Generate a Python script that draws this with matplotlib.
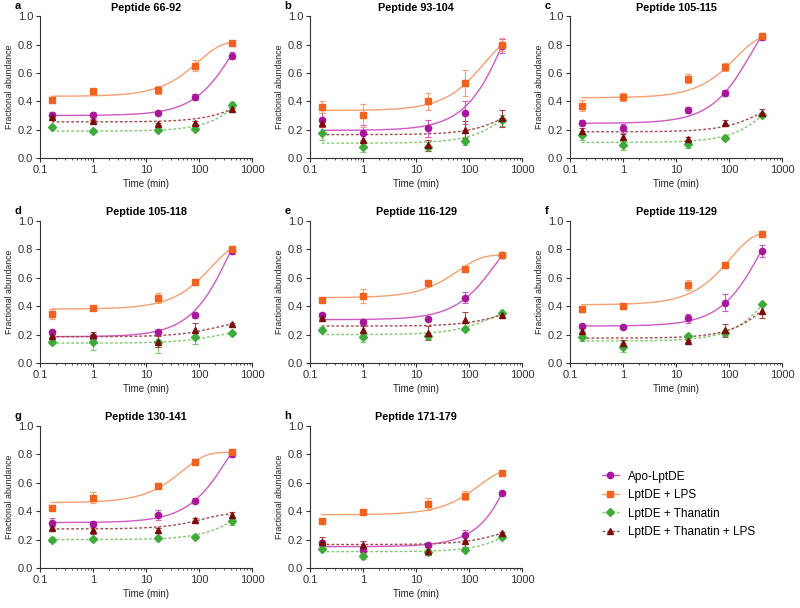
import numpy as np
import matplotlib
matplotlib.use('Agg')
import matplotlib.pyplot as plt
from matplotlib.lines import Line2D
from matplotlib.ticker import LogLocator, NullFormatter

plt.rcParams['font.family'] = ['Liberation Sans', 'DejaVu Sans']

# sampling times (min)
times = [0.167, 1.0, 16.7, 83.3, 416.7]

titles = ['Peptide 66-92', 'Peptide 93-104', 'Peptide 105-115', 'Peptide 105-118',
          'Peptide 116-129', 'Peptide 119-129', 'Peptide 130-141', 'Peptide 171-179']
letters = ['a', 'b', 'c', 'd', 'e', 'f', 'g', 'h']

series_names = ['Apo-LptDE', 'LptDE + LPS', 'LptDE + Thanatin', 'LptDE + Thanatin + LPS']

# Apo-LptDE
apo_y = [[0.30, 0.30, 0.32, 0.43, 0.72],
         [0.27, 0.18, 0.21, 0.32, 0.79],
         [0.25, 0.21, 0.34, 0.46, 0.85],
         [0.22, 0.185, 0.22, 0.335, 0.79],
         [0.335, 0.29, 0.31, 0.46, 0.76],
         [0.26, 0.255, 0.315, 0.425, 0.79],
         [0.32, 0.31, 0.37, 0.475, 0.805],
         [0.175, 0.13, 0.16, 0.23, 0.53]]
apo_err = [[0.025, 0.025, 0.01, 0.02, 0.025],
           [0.05, 0.05, 0.06, 0.08, 0.05],
           [0.02, 0.03, 0.02, 0.02, 0.02],
           [0.01, 0.02, 0.01, 0.02, 0.02],
           [0.015, 0.01, 0.01, 0.04, 0.015],
           [0.01, 0.01, 0.03, 0.06, 0.04],
           [0.03, 0.02, 0.035, 0.02, 0.02],
           [0.02, 0.02, 0.01, 0.035, 0.01]]
# fit: (y0, plateau, k)
apo_fit = [(0.30, 1.0, 0.0023), (0.195, 1.2, 0.00215), (0.245, 1.0, 0.00404),
           (0.185, 1.1, 0.00271), (0.305, 0.9, 0.00337), (0.26, 1.05, 0.00272),
           (0.32, 1.0, 0.00311), (0.15, 3.0, 0.000343)]

# LptDE + LPS
lps_y = [[0.41, 0.47, 0.48, 0.65, 0.81],
         [0.36, 0.30, 0.40, 0.53, 0.80],
         [0.37, 0.43, 0.56, 0.64, 0.86],
         [0.345, 0.39, 0.46, 0.57, 0.80],
         [0.445, 0.47, 0.56, 0.665, 0.76],
         [0.38, 0.40, 0.55, 0.69, 0.905],
         [0.425, 0.495, 0.58, 0.745, 0.815],
         [0.33, 0.395, 0.45, 0.51, 0.67]]
lps_err = [[0.02, 0.01, 0.03, 0.04, 0.01],
           [0.04, 0.08, 0.06, 0.09, 0.045],
           [0.04, 0.03, 0.03, 0.03, 0.02],
           [0.035, 0.01, 0.035, 0.01, 0.015],
           [0.01, 0.05, 0.02, 0.02, 0.015],
           [0.01, 0.02, 0.035, 0.02, 0.01],
           [0.01, 0.04, 0.01, 0.02, 0.01],
           [0.01, 0.02, 0.04, 0.03, 0.01]]
lps_fit = [(0.435, 0.82, 0.0103), (0.335, 0.85, 0.00536), (0.425, 0.87, 0.00745),
           (0.38, 0.85, 0.0058), (0.46, 0.76, 0.0159), (0.41, 0.92, 0.00959),
           (0.46, 0.815, 0.0204), (0.375, 0.70, 0.00645)]

# LptDE + Thanatin
than_y = [[0.22, 0.19, 0.195, 0.205, 0.375],
          [0.175, 0.08, 0.08, 0.12, 0.265],
          [0.16, 0.09, 0.10, 0.14, 0.305],
          [0.145, 0.145, 0.145, 0.18, 0.21],
          [0.235, 0.18, 0.19, 0.24, 0.35],
          [0.185, 0.11, 0.19, 0.21, 0.415],
          [0.20, 0.205, 0.21, 0.22, 0.33],
          [0.135, 0.085, 0.115, 0.13, 0.22]]
than_err = [[0.015, 0.01, 0.01, 0.01, 0.02],
            [0.05, 0.04, 0.03, 0.03, 0.04],
            [0.03, 0.03, 0.03, 0.01, 0.015],
            [0.01, 0.055, 0.075, 0.045, 0.01],
            [0.015, 0.03, 0.02, 0.01, 0.01],
            [0.03, 0.03, 0.015, 0.02, 0.01],
            [0.02, 0.01, 0.01, 0.01, 0.025],
            [0.01, 0.02, 0.02, 0.01, 0.015]]
than_fit = [(0.19, 1.0, 0.00053), (0.105, 0.5, 0.0013), (0.11, 0.6, 0.00118),
            (0.14, 0.22, 0.005), (0.20, 0.38, 0.00393), (0.155, 0.8, 0.0012),
            (0.20, 0.5, 0.00136), (0.115, 1.0, 0.0003)]

# LptDE + Thanatin + LPS
tl_y = [[0.29, 0.26, 0.24, 0.25, 0.345],
        [0.25, 0.13, 0.09, 0.20, 0.28],
        [0.19, 0.15, 0.135, 0.25, 0.32],
        [0.19, 0.20, 0.15, 0.23, 0.275],
        [0.32, 0.23, 0.21, 0.30, 0.335],
        [0.225, 0.14, 0.155, 0.23, 0.365],
        [0.285, 0.27, 0.265, 0.34, 0.375],
        [0.18, 0.16, 0.12, 0.19, 0.245]]
tl_err = [[0.01, 0.01, 0.01, 0.01, 0.01],
          [0.03, 0.05, 0.04, 0.06, 0.06],
          [0.02, 0.02, 0.01, 0.02, 0.025],
          [0.01, 0.02, 0.04, 0.05, 0.01],
          [0.01, 0.03, 0.05, 0.06, 0.01],
          [0.02, 0.02, 0.01, 0.045, 0.05],
          [0.01, 0.03, 0.02, 0.015, 0.02],
          [0.04, 0.03, 0.03, 0.04, 0.01]]
tl_fit = [(0.255, 0.5, 0.0011), (0.165, 0.45, 0.00124), (0.185, 0.4, 0.00237),
          (0.185, 0.29, 0.00467), (0.26, 0.4, 0.00203), (0.175, 0.6, 0.00147),
          (0.275, 0.385, 0.00835), (0.165, 0.3, 0.00216)]

all_y = [apo_y, lps_y, than_y, tl_y]
all_err = [apo_err, lps_err, than_err, tl_err]
all_fit = [apo_fit, lps_fit, than_fit, tl_fit]

marker_colors = ['#A8169C', '#F2621E', '#3EAA3A', '#7A0C0C']
line_colors = ['#CF5AC6', '#F7A070', '#7CCB6A', '#A84848']
markers = ['o', 's', 'D', '^']
msizes = [4.5, 4.5, 4.0, 4.5]
styles = ['-', '-', (0, (2, 1.5)), (0, (2, 1.5))]


def one_phase(t, y0, plateau, k):
    return y0 + (plateau - y0) * (1 - np.exp(-k * t))


fig = plt.figure(figsize=(8, 6.08), dpi=100)

lefts = [0.05, 0.3875, 0.7125]
bottoms = [0.740, 0.403, 0.0658]
w, h = 0.265, 0.2335

tt = np.logspace(np.log10(times[0]), np.log10(times[-1]), 200)

for p in range(8):
    row, col = p // 3, p % 3
    ax = fig.add_axes([lefts[col], bottoms[row], w, h])

    for s in range(4):
        y0, pl, k = all_fit[s][p]
        ax.plot(tt, one_phase(tt, y0, pl, k), color=line_colors[s], ls=styles[s], lw=1.0, zorder=2)
    for s in range(4):
        ax.errorbar(times, all_y[s][p], yerr=all_err[s][p], fmt=markers[s], ms=msizes[s],
                    color=marker_colors[s], ecolor=line_colors[s], elinewidth=0.8,
                    capsize=2, capthick=0.8, zorder=3)

    ax.set_xscale('log')
    ax.set_xlim(0.1, 1000)
    ax.set_ylim(0, 1.0)
    ax.set_xticks([0.1, 1, 10, 100, 1000])
    ax.set_xticklabels(['0.1', '1', '10', '100', '1000'])
    ax.xaxis.set_minor_locator(LogLocator(base=10, subs=np.arange(2, 10), numticks=20))
    ax.xaxis.set_minor_formatter(NullFormatter())
    ax.set_yticks([0, 0.2, 0.4, 0.6, 0.8, 1.0])
    ax.set_yticklabels(['0.0', '0.2', '0.4', '0.6', '0.8', '1.0'])

    for side in ['top', 'right']:
        ax.spines[side].set_visible(False)
    for side in ['left', 'bottom']:
        ax.spines[side].set_linewidth(0.8)
        ax.spines[side].set_color('#333333')
    ax.tick_params(which='major', direction='out', length=3, width=0.8, colors='#333333',
                   labelsize=8, pad=2)
    ax.tick_params(which='minor', direction='out', length=1.6, width=0.6, colors='#333333')

    ax.set_xlabel('Time (min)', fontsize=7, labelpad=3, color='#222222')
    ax.set_ylabel('Fractional abundance', fontsize=6.3, labelpad=3, color='#222222')
    ax.set_title(titles[p], fontsize=7.8, fontweight='bold', pad=4)
    ax.text(-0.12, 1.035, letters[p], transform=ax.transAxes, fontsize=8,
            fontweight='bold', ha='left', va='bottom')

handles = []
for s in range(4):
    handles.append(Line2D([], [], color=line_colors[s], ls=styles[s], lw=1.0,
                          marker=markers[s], ms=msizes[s], mfc=marker_colors[s],
                          mec=marker_colors[s]))
fig.legend(handles, series_names, loc='upper left', bbox_to_anchor=(0.7525, 0.226),
           frameon=False, fontsize=8.5, handlelength=1.4, handletextpad=0.8,
           labelspacing=0.55, borderpad=0, borderaxespad=0)

fig.savefig('out.png', dpi=100)
